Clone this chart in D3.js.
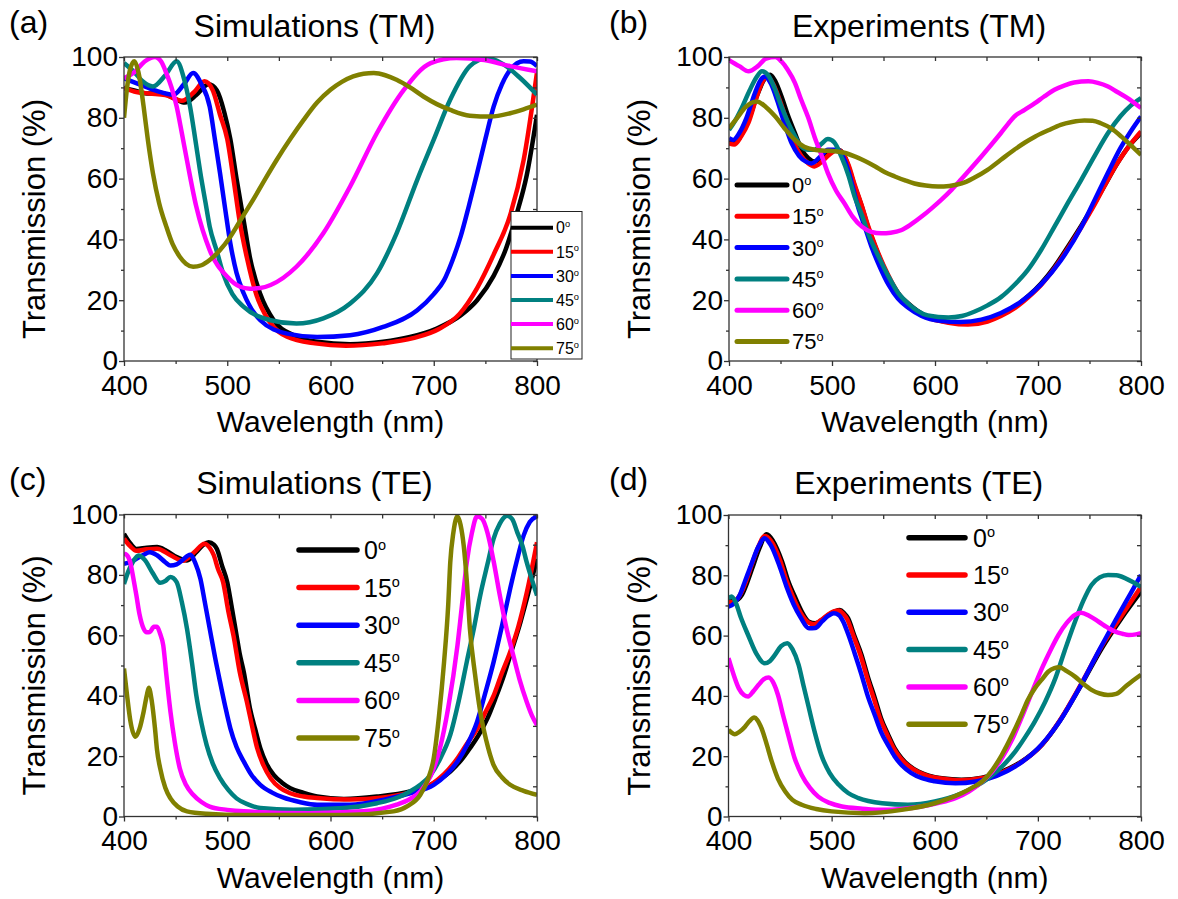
<!DOCTYPE html>
<html><head><meta charset="utf-8">
<script src="https://cdn.jsdelivr.net/npm/d3@7"></script>
<style>body{margin:0;background:#fff}svg{display:block;font-family:"Liberation Sans",Arial,sans-serif}</style>
</head><body><svg id="c" width="1178" height="899"></svg>
<script>
// ---------- categories / ticks ----------
const angles = ["0", "15", "30", "45", "60", "75"];
const colors = ["#000000", "#ff0000", "#0000ff", "#008080", "#ff00ff", "#808000"];
const xMajor = [400, 500, 600, 700, 800];
const xMinor = [450, 550, 650, 750];
const yMajor = [0, 20, 40, 60, 80, 100];
const yMinor = [10, 30, 50, 70, 90];

// ---------- (a) Simulations (TM) ----------
const simTM_0 = [[400,89.8],[410,89],[422,88],[435,88.2],[448,86.5],[459,85],[470,87.5],[482,91],[490,89],[497,82],[503,73],[509,60],[516,46],[522,34],[532,22],[545,13.4],[564,8.5],[587,6.3],[619,5.5],[651,6.3],[677,7.9],[703,10.7],[726,15],[742,20],[758,28],[770,37],[780,48],[790,61],[800,81]];
const simTM_15 = [[400,89.8],[412,88.5],[425,88],[440,87.5],[456,85.6],[468,88.5],[478,92],[486,89],[493,81],[500,73],[506,60],[512,46],[519,34],[528,22],[540,13.4],[558,8],[585,5.8],[615,5],[650,5.8],[680,7.5],[705,10.5],[725,15.5],[742,24],[758,35],[774,48],[787,66],[800,95]];
const simTM_30 = [[400,93],[415,91],[430,89],[448,87.6],[458,91],[467,94.7],[475,91],[483,83.7],[488,73],[493,61.8],[498,50],[503,38.7],[509,29],[516,22.2],[532,13.4],[558,9],[587,7.9],[619,8.5],[651,11.2],[684,16.7],[700,22],[710,26.6],[718,33],[726,40.9],[734,51],[742,61.8],[750,73],[758,83.7],[766,91],[774,95.8],[787,98.6],[793,98.5],[800,97]];
const simTM_45 = [[400,98],[410,95],[418,92],[428,90.3],[440,94],[451,98.6],[458,93],[464,83.7],[469,73],[474,61.8],[479,52],[483,44.2],[490,36],[496,28.8],[505,22],[516,17.8],[542,13.4],[567,12.3],[593,14],[619,18.9],[645,28.8],[664,42],[684,59.6],[700,72.8],[716,86],[735,97],[752,99.7],[768,97.5],[784,93],[800,87.6]];
const simTM_60 = [[400,93],[410,95],[420,98.5],[430,100],[436,98.5],[441,94.7],[446,90],[451,83.7],[456,75],[461,66],[470,50.8],[483,36.5],[500,27.7],[512,24.5],[522,23.8],[532,24],[542,25],[567,31],[593,42],[619,57.4],[645,75],[671,89.2],[697,98],[722,99.7],[749,99],[774,97],[800,95.3]];
const simTM_75 = [[400,80],[403,90],[406,96],[410,98.6],[414,95],[419,83.7],[423,73],[428,61.8],[434,52],[441,44.2],[447,38.5],[454,34.3],[460,32],[467,31],[475,31.5],[483,33.2],[493,36.5],[503,40.9],[514,47],[525,53],[537,60],[548,66.2],[561,73],[574,79.3],[587,85],[600,89.2],[611,91.8],[622,93.6],[632,94.5],[642,94.7],[653,94],[664,92.5],[677,90],[690,87],[703,84.5],[716,82.6],[735,80.7],[755,80.4],[774,81.5],[787,82.8],[800,84.3]];

// ---------- (b) Experiments (TM) ----------
const expTM_0 = [[400,72.7],[406,72],[413,75],[419,79.3],[428,88],[434,92.5],[440,94.2],[445,92],[451,87],[457,81],[464,75],[470,70],[477,66.7],[483,65.6],[490,66.5],[496,68.5],[506,69.5],[512,67.5],[516,64],[522,57.5],[529,50.8],[535,44],[542,37.6],[550,31],[558,25.5],[566,21.5],[574,18.9],[583,16.5],[593,14.5],[613,12.8],[632,12.3],[651,13.4],[664,15.2],[677,17.8],[690,21.2],[703,25.5],[716,31],[729,37.6],[742,44.5],[755,51.9],[766,58.5],[777,65],[788,70.5],[800,75]];
const expTM_15 = [[400,71.6],[405,71.2],[412,74],[419,78.5],[427,87],[432,91.5],[437,93.6],[443,91],[449,86],[456,79],[463,72],[470,67.5],[477,65],[483,64],[490,65.5],[497,67.8],[506,69.5],[512,67.5],[516,64.5],[522,58],[529,51],[535,44.5],[542,38],[550,31.5],[558,26],[566,21.5],[574,18.8],[583,16.2],[593,14.3],[613,12.6],[632,12],[651,13],[664,14.8],[677,17.3],[690,20.8],[703,25],[716,30.5],[729,37],[742,44],[755,51.5],[766,58.5],[777,65],[788,70.5],[800,75.5]];
const expTM_30 = [[400,73.3],[404,72.7],[410,75],[417,80],[425,88],[430,92],[435,93.6],[441,91],[447,85.5],[454,78],[461,71.5],[468,67.5],[475,65.5],[480,65],[488,67],[496,69.5],[506,69.5],[511,67],[515,63.5],[520,57.5],[525,51],[532,44],[539,37],[547,30.5],[555,25],[564,20.5],[574,17.5],[587,14.8],[605,13.2],[625,12.8],[645,13.6],[664,15.8],[684,19.6],[703,25.2],[722,33],[742,44],[755,53],[768,62],[780,70],[790,75.5],[800,80.4]];
const expTM_45 = [[400,76],[405,78.5],[412,83],[420,89],[427,93.5],[432,95.3],[438,94],[444,90],[451,83.7],[458,78],[464,74],[470,70.6],[477,69.5],[483,69.5],[490,71.5],[496,73],[502,72],[509,67.3],[516,61],[522,54],[529,48],[535,42],[545,34.5],[555,27.7],[564,22.5],[574,18.9],[583,16.5],[593,15],[613,14.3],[626,14.8],[638,16.2],[651,18.3],[664,21],[677,25],[690,29.9],[703,36.5],[716,44.2],[729,52],[742,59.6],[755,67.5],[768,75],[780,80.5],[790,84],[800,86.5]];
const expTM_60 = [[400,99],[410,97],[419,95.3],[428,97],[436,99.5],[445,100],[451,98.5],[457,95.8],[464,91.5],[470,86],[477,80],[483,73.8],[490,67.5],[496,61.8],[504,56],[512,51.9],[520,47.5],[529,44.2],[538,42.5],[548,42],[557,42.2],[567,43],[577,45],[587,47.5],[597,50.3],[606,53],[616,56.3],[625,59.6],[635,63.4],[645,67.3],[655,71.3],[664,75],[671,78],[677,80.4],[687,82.6],[697,84.8],[706,87],[716,89.2],[726,90.7],[735,91.6],[749,92],[758,91.5],[768,90.3],[777,88.5],[787,86.5],[800,83.2]];
const expTM_75 = [[400,76.6],[408,80],[416,83.5],[427,85.4],[436,83.5],[445,80.4],[454,76.5],[464,72.7],[473,70.5],[483,69.5],[493,69.2],[503,69],[512,68.5],[522,67.3],[532,65.8],[542,64],[551,62.2],[561,60.7],[571,59.4],[580,58.4],[591,57.7],[603,57.4],[614,57.6],[626,58.4],[638,60.3],[651,62.9],[664,66.2],[677,69.5],[687,71.8],[697,73.8],[710,75.9],[722,77.7],[733,78.6],[745,79.1],[753,79],[761,78.2],[771,76.5],[781,73.8],[790,71],[800,67.8]];

// ---------- (c) Simulations (TE) ----------
const simTE_0 = [[400,93.6],[406,90.5],[412,88.6],[422,89],[432,89.2],[441,88],[451,85.9],[461,84.8],[470,87.5],[477,90],[482,90.8],[487,90],[490,88.6],[495,83],[500,77.6],[504,70],[509,60],[512,54],[516,47.9],[522,35.8],[527,29],[532,22.6],[538,17.5],[545,13.8],[553,11.2],[561,9.4],[574,7.8],[587,6.6],[613,5.8],[645,6.6],[677,8.3],[697,10.5],[706,12.3],[716,14.9],[726,18.4],[735,22.6],[744,27.3],[752,32.5],[760,39.3],[768,46.8],[776,55.5],[784,64.4],[792,74.5],[800,85.3]];
const simTE_15 = [[400,92],[406,89.5],[412,88],[422,88.5],[432,88.7],[445,86.5],[457,84.7],[468,87.5],[478,90.3],[483,89],[487,86.5],[491,82],[496,77.6],[501,68],[506,60],[512,48],[519,38],[524,30],[529,22.6],[535,17],[542,12.7],[551,9.5],[561,7.7],[574,6.6],[587,6.1],[619,5.6],[651,6.3],[677,8],[697,10.5],[710,14],[723,19.3],[732,24],[742,29],[750,34.5],[758,40],[766,47.5],[774,54.5],[782,63],[790,74],[800,90.8]];
const simTE_30 = [[400,83.7],[406,84.2],[412,85.3],[419,86.7],[425,87.5],[432,86.5],[440,84.2],[445,83.1],[451,83.5],[457,85],[464,86.7],[469,84],[474,78.7],[478,71.5],[483,62.2],[488,53],[493,44.6],[498,36.5],[503,29.2],[509,23],[516,18.2],[524,13.5],[532,10.5],[543,8],[554,6.3],[570,4.8],[587,3.9],[619,3.9],[651,5.5],[677,7.7],[700,10.5],[712,13.8],[723,18.2],[732,23.5],[742,31.4],[750,41],[758,51.2],[766,63],[774,75.4],[780,84],[787,93],[793,97.5],[800,99.4]];
const simTE_45 = [[400,77],[404,81],[409,84.5],[414,86.4],[420,85],[428,80.5],[435,77.4],[440,78],[445,79.3],[451,77.6],[456,71],[461,62.2],[466,50.5],[470,40.2],[475,31],[480,23.7],[486,17.5],[493,12.7],[501,8.8],[509,6],[520,4],[532,2.8],[564,2.2],[613,2.8],[645,4.4],[665,6.3],[677,8.3],[687,10.5],[697,13.8],[706,19],[716,27],[724,38],[732,51.2],[739,62.5],[745,73.2],[752,83.5],[758,92],[764,97],[771,99.6],[776,98.5],[781,94],[786,89.5],[790,84.2],[795,78.5],[800,73.2]];
const simTE_60 = [[400,87],[403,86.5],[406,84.2],[409,79],[412,73.2],[415,67],[419,62.2],[422,61],[425,61.1],[429,62.8],[432,62.8],[435,60.5],[438,56.7],[441,47],[445,34.7],[449,25],[454,16],[460,10.5],[467,7.2],[475,4.8],[483,3.3],[500,2.2],[516,1.7],[580,1.1],[632,1.7],[650,2.6],[664,3.9],[677,5.8],[687,8.3],[697,13.5],[706,22.6],[714,36],[723,56.7],[728,72],[732,84.2],[737,94],[742,99.4],[747,98.5],[752,94],[758,84.5],[764,73.2],[770,63],[777,53.4],[783,45.5],[790,38],[795,33.5],[800,30.3]];
const simTE_75 = [[400,49],[403,40],[406,32],[411,26.4],[415,29],[419,34.7],[422,40],[424,42.6],[427,38],[430,29.2],[432,22],[435,16],[440,9.5],[445,6],[452,3.3],[461,1.7],[480,0.9],[516,0.5],[613,0.5],[661,1.7],[675,3.5],[687,7.2],[694,12],[700,19.3],[705,33],[710,51.2],[714,70],[716,84.2],[719,94],[723,99.4],[726,96.5],[729,89.7],[732,78],[735,62.2],[740,47],[745,34.7],[751,25],[758,17],[766,13],[774,10.5],[787,8.5],[800,7.2]];

// ---------- (d) Experiments (TE) ----------
const expTE_0 = [[400,71.3],[406,71.5],[413,73.5],[418,77.5],[423,82.3],[430,89],[437,93.6],[443,91.5],[452,84.5],[458,78],[465,72.4],[471,68],[478,64.6],[484,64.1],[491,65.3],[497,66.9],[503,68],[508,68.5],[512,67.5],[516,65.7],[522,60],[529,53.6],[535,46.5],[542,39.2],[548,32.5],[555,27],[561,22.7],[568,19.3],[575,16.9],[584,14.9],[595,13.5],[607,12.7],[626,12.2],[646,12.9],[665,14.9],[684,18.2],[704,23.8],[723,32.6],[742,43.6],[762,55.8],[781,65.7],[800,74.6]];
const expTE_15 = [[400,71],[406,71.5],[412,74],[417,78],[422,83],[429,89.5],[435,93],[441,91.5],[450,85],[456,78.5],[463,72.5],[470,67.5],[477,64.5],[483,63.8],[490,65.2],[496,66.8],[502,68],[507,68.3],[511,67.3],[515,65.5],[521,60],[528,53.5],[534,46.5],[541,39],[547,32.5],[554,27],[560,22.7],[567,19.3],[574,16.9],[583,14.9],[594,13.4],[606,12.6],[625,12],[645,12.7],[665,14.6],[684,18],[704,23.8],[723,32.8],[742,44],[762,56.5],[781,66.5],[800,76.2]];
const expTE_30 = [[400,69.6],[405,70.5],[411,73.5],[416,78],[422,83.5],[429,89.5],[435,92.3],[441,90],[449,83.5],[456,76.5],[463,70.5],[470,66],[478,62.4],[484,62.5],[491,64.8],[497,66.6],[502,67.4],[507,66.8],[511,64.8],[516,60.5],[522,54.5],[529,47],[535,40],[542,33.5],[548,28],[555,23.5],[561,20],[568,17],[577,14.5],[587,12.8],[600,11.7],[620,11],[640,11.6],[660,13.5],[680,17],[700,22.5],[720,31],[740,42.5],[760,55.5],[780,68],[790,74],[800,80.1]];
const expTE_45 = [[400,72.4],[403,73],[407,71],[412,66],[419,60.2],[427,54],[435,50.8],[440,51.5],[445,53.6],[451,56.5],[457,57.5],[462,55.5],[468,50.3],[473,43],[478,35.9],[484,27.5],[490,20.4],[498,14.5],[507,10.5],[516,7.8],[526,6.1],[549,4.4],[574,3.9],[600,5],[626,7.7],[652,12.7],[665,16.5],[678,21.5],[688,26.5],[697,31.5],[707,38],[717,45.9],[726,55],[736,64.6],[744,71.5],[752,76.8],[760,79.3],[768,80.1],[776,80],[785,79],[792,77.8],[800,76.2]];
const expTE_60 = [[400,52.5],[405,47],[410,42.5],[415,40.3],[419,39.8],[424,41.5],[429,43.6],[434,45.5],[439,46.1],[444,44],[448,40.3],[453,33.5],[458,27],[464,19.5],[471,13.8],[479,9.5],[487,6.6],[498,4.5],[510,3.3],[530,2.6],[549,2.2],[568,2.5],[587,3.3],[604,4.5],[620,6.1],[633,8.3],[646,11.6],[656,15],[665,19.3],[675,25.5],[684,32.6],[694,41],[704,49.2],[712,55],[720,60.2],[728,64.2],[736,66.9],[742,67.6],[750,66.5],[759,64.6],[767,62.8],[775,61.3],[782,60.6],[788,60.2],[795,60.4],[800,60.8]];
const expTE_75 = [[400,28.7],[403,27.8],[406,27.3],[411,28.2],[416,29.8],[420,31.5],[425,32.8],[428,32],[432,29.3],[437,24],[442,18.2],[448,12.5],[455,8.3],[462,5.5],[471,3.9],[485,2.5],[500,1.7],[532,1.1],[568,2.2],[600,4.4],[626,7.7],[636,9.5],[646,11.6],[656,15.5],[665,20.4],[675,27],[684,33.7],[690,38.5],[697,42.5],[704,45.5],[710,48],[716,49.2],[721,49.5],[728,48.2],[736,46.4],[744,44],[752,42],[760,40.8],[768,40.3],[776,40.7],[785,43.1],[792,45],[800,47]];

// ---------- layout ----------
const panels = [
  {key:"a", letter:"(a)", title:"Simulations (TM)", series:[simTM_0,simTM_15,simTM_30,simTM_45,simTM_60,simTM_75],
   l:124, r:537, t:57, b:361, lx:9, ty:37,
   leg:{box:[511,211.5,71,147.5], x1:511, x2:553, y0:227.7, dy:24.1, tx:556, fs:16, sw:4}},
  {key:"b", letter:"(b)", title:"Experiments (TM)", series:[expTM_0,expTM_15,expTM_30,expTM_45,expTM_60,expTM_75],
   l:729, r:1141, t:57, b:361, lx:609, ty:37,
   leg:{box:null, x1:737, x2:787, y0:185, dy:31.3, tx:792, fs:22, sw:5}},
  {key:"c", letter:"(c)", title:"Simulations (TE)", series:[simTE_0,simTE_15,simTE_30,simTE_45,simTE_60,simTE_75],
   l:124, r:537, t:514.5, b:816.5, lx:9, ty:494,
   leg:{box:null, x1:299, x2:357, y0:550, dy:37.6, tx:364, fs:25, sw:5.5}},
  {key:"d", letter:"(d)", title:"Experiments (TE)", series:[expTE_0,expTE_15,expTE_30,expTE_45,expTE_60,expTE_75],
   l:728.5, r:1141, t:515, b:816.5, lx:609, ty:494,
   leg:{box:null, x1:909, x2:965, y0:537.7, dy:37.3, tx:973, fs:25, sw:5.5}}
];

const FONT = "'Liberation Sans', Arial, sans-serif";
const svg = d3.select("#c");
const axisColor = "#333";

panels.forEach(p => {
  const g = svg.append("g").attr("font-family", FONT);
  const x = d3.scaleLinear().domain([400, 800]).range([p.l, p.r]);
  const y = d3.scaleLinear().domain([0, 100]).range([p.b, p.t]);

  const cid = "clip-" + p.key;
  svg.append("defs").append("clipPath").attr("id", cid)
    .append("rect").attr("x", p.l).attr("y", p.t).attr("width", p.r - p.l).attr("height", p.b - p.t);

  const line = d3.line().x(d => x(d[0])).y(d => y(d[1])).curve(d3.curveMonotoneX);
  const cg = g.append("g").attr("clip-path", `url(#${cid})`);
  p.series.forEach((s, i) => {
    cg.append("path").datum(s).attr("d", line)
      .attr("fill", "none").attr("stroke", colors[i]).attr("stroke-width", 4.5)
      .attr("stroke-linejoin", "round");
  });

  const styleAxis = sel => {
    sel.attr("font-family", FONT);
    sel.select(".domain").remove();
    sel.selectAll("line").attr("stroke", axisColor).attr("stroke-width", 1.3);
    sel.selectAll("text").attr("fill", "#000").attr("font-size", 28);
  };
  g.append("g").attr("transform", `translate(0,${p.b})`)
    .call(d3.axisBottom(x).tickValues(xMajor).tickSize(5).tickPadding(9).tickFormat(d3.format("d"))).call(styleAxis);
  g.append("g").attr("transform", `translate(0,${p.b})`)
    .call(d3.axisBottom(x).tickValues(xMinor).tickSize(3).tickFormat("")).call(styleAxis);
  g.append("g").attr("transform", `translate(${p.l},0)`)
    .call(d3.axisLeft(y).tickValues(yMajor).tickSize(5).tickPadding(1).tickFormat(d3.format("d"))).call(styleAxis);
  g.append("g").attr("transform", `translate(${p.l},0)`)
    .call(d3.axisLeft(y).tickValues(yMinor).tickSize(3).tickFormat("")).call(styleAxis);
  g.append("g").attr("transform", `translate(0,${p.t})`)
    .call(d3.axisTop(x).tickValues(xMajor.concat(xMinor)).tickSize(-4).tickFormat("")).call(styleAxis);
  g.append("g").attr("transform", `translate(${p.r},0)`)
    .call(d3.axisRight(y).tickValues(yMajor.concat(yMinor)).tickSize(-4).tickFormat("")).call(styleAxis);

  g.append("rect").attr("x", p.l).attr("y", p.t).attr("width", p.r - p.l).attr("height", p.b - p.t)
    .attr("fill", "none").attr("stroke", axisColor).attr("stroke-width", 1.3);

  g.append("text").attr("x", (p.l + p.r) / 2).attr("y", p.b + 71).attr("text-anchor", "middle")
    .attr("font-size", 30).text("Wavelength (nm)");
  g.append("text").attr("transform", `translate(${p.l - 79},${(p.t + p.b) / 2 + 10}) rotate(-90)`)
    .attr("text-anchor", "middle").attr("font-size", 31).text("Transmission (%)");

  g.append("text").attr("x", (p.l + p.r) / 2 - 16).attr("y", p.ty).attr("text-anchor", "middle")
    .attr("font-size", 32).text(p.title);
  g.append("text").attr("x", p.lx).attr("y", p.ty - 4).attr("font-size", 32).text(p.letter);

  const L = p.leg;
  const lg = g.append("g");
  if (L.box) {
    lg.append("rect").attr("x", L.box[0]).attr("y", L.box[1]).attr("width", L.box[2]).attr("height", L.box[3])
      .attr("fill", "#fff").attr("stroke", "#222").attr("stroke-width", 1);
  }
  angles.forEach((a, i) => {
    const yy = L.y0 + i * L.dy;
    lg.append("line").attr("x1", L.x1).attr("x2", L.x2).attr("y1", yy).attr("y2", yy)
      .attr("stroke", colors[i]).attr("stroke-width", L.sw).attr("stroke-linecap", L.box ? "butt" : "round");
    const t = lg.append("text").attr("x", L.tx).attr("y", yy + L.fs * 0.36).attr("font-size", L.fs);
    t.append("tspan").text(a);
    t.append("tspan").attr("font-size", L.fs * 0.58).attr("dy", -L.fs * 0.38).text("o");
  });
});
</script></body></html>
